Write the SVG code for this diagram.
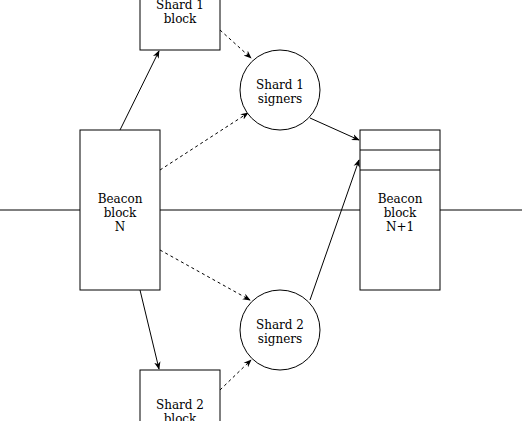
<svg xmlns="http://www.w3.org/2000/svg" width="522" height="421" viewBox="0 0 522 421">
<style>
.n{fill:#fff;stroke:#000;stroke-width:1}
.t{font-family:"DejaVu Serif",serif;font-size:12px;fill:#000;text-anchor:middle}
.c{fill:none;stroke:#000;stroke-width:1}
.d{stroke-dasharray:3 3}
</style>
<defs>
<marker id="a" viewBox="0 0 10 10" refX="9" refY="5" markerWidth="8" markerHeight="8" markerUnits="userSpaceOnUse" orient="auto">
<path d="M0,1 L10,5 L0,9 L3,5 Z" fill="#000"/>
</marker>
</defs>
<rect width="522" height="421" fill="#fff"/>
<g id="connectors">
<path class="c" d="M0,210 H80 M160,210 H360 M440,210 H522"/>
<path class="c" d="M120,130 L159,51" marker-end="url(#a)"/>
<path class="c d" d="M220,30 L251,58" marker-end="url(#a)"/>
<path class="c d" d="M160,170 L248,113" marker-end="url(#a)"/>
<path class="c" d="M310,118 L359,140" marker-end="url(#a)"/>
<path class="c d" d="M160,250 L250,300" marker-end="url(#a)"/>
<path class="c" d="M140,290 L159,369" marker-end="url(#a)"/>
<path class="c d" d="M220,390 L251,360" marker-end="url(#a)"/>
<path class="c" d="M310,300 L359,160" marker-end="url(#a)"/>
</g>
<g id="shard1block">
<rect class="n" x="140" y="-30" width="80" height="80"/>
<text class="t" x="180" y="9">Shard 1</text>
<text class="t" x="180" y="23">block</text>
</g>
<g id="shard1signers">
<circle class="n" cx="280" cy="90" r="40"/>
<text class="t" x="280" y="89">Shard 1</text>
<text class="t" x="280" y="103">signers</text>
</g>
<g id="beaconN">
<rect class="n" x="80" y="130" width="80" height="160"/>
<text class="t" x="120" y="203">Beacon</text>
<text class="t" x="120" y="217">block</text>
<text class="t" x="120" y="231">N</text>
</g>
<g id="beaconN1">
<rect class="n" x="360" y="130" width="80" height="160"/>
<path class="c" d="M360,150 H440 M360,170 H440"/>
<text class="t" x="400" y="203">Beacon</text>
<text class="t" x="400" y="217">block</text>
<text class="t" x="400" y="231">N+1</text>
</g>
<g id="shard2signers">
<circle class="n" cx="280" cy="330" r="40"/>
<text class="t" x="280" y="329">Shard 2</text>
<text class="t" x="280" y="343">signers</text>
</g>
<g id="shard2block">
<rect class="n" x="140" y="370" width="80" height="80"/>
<text class="t" x="180" y="409">Shard 2</text>
<text class="t" x="180" y="423">block</text>
</g>
</svg>
